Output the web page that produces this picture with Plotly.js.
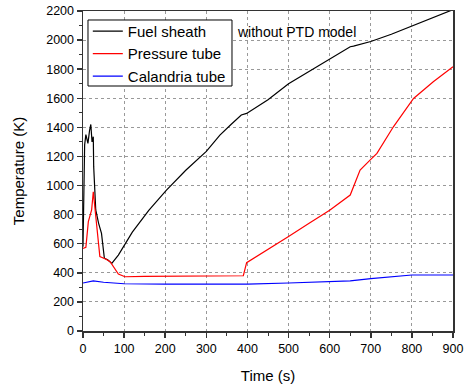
<!DOCTYPE html>
<html><head><meta charset="utf-8">
<script src="https://cdn.plot.ly/plotly-3.0.1.min.js"></script>
<style>html,body{margin:0;padding:0;background:#fff}#chart{width:465px;height:390px}</style>
</head><body><div id="chart"></div>
<script>
const sheathTime = [0, 2, 4, 7, 12, 16, 19, 22, 25, 26, 31, 38, 45, 52, 60, 70, 86, 120, 160, 203, 250, 300, 333, 360, 385, 398, 450, 500, 550, 600, 650, 658, 700, 750, 800, 850, 897];
const sheathTemp = [580, 900, 1280, 1350, 1290, 1380, 1420, 1300, 1336, 1130, 832, 740, 671, 500, 490, 465, 522, 680, 830, 969, 1105, 1235, 1347, 1420, 1485, 1496, 1590, 1700, 1785, 1870, 1954, 1959, 1990, 2040, 2096, 2150, 2206];
const tubeTime = [0, 7, 13, 21, 25, 33, 41, 55, 66, 86, 102, 150, 250, 350, 390, 398, 450, 500, 550, 600, 650, 674, 700, 715, 755, 804, 852, 900];
const tubeTemp = [568, 575, 752, 832, 957, 720, 511, 495, 476, 392, 373, 375, 375, 375, 380, 470, 560, 650, 740, 830, 935, 1107, 1180, 1221, 1404, 1599, 1713, 1816];
const calTime = [0, 25, 50, 100, 200, 300, 400, 500, 600, 650, 700, 750, 800, 900];
const calTemp = [330, 345, 335, 325, 322, 322, 322, 330, 340, 345, 360, 372, 385, 385];
const names = ['Fuel sheath', 'Pressure tube', 'Calandria tube'];
const colors = ['#000000', '#ff0000', '#0000ff'];
const xTicks = [0, 100, 200, 300, 400, 500, 600, 700, 800, 900];
const yTicks = [0, 200, 400, 600, 800, 1000, 1200, 1400, 1600, 1800, 2000, 2200];

const F = '"Liberation Sans", Arial, sans-serif';
const series = [[sheathTime, sheathTemp], [tubeTime, tubeTemp], [calTime, calTemp]];
const data = series.map((s, i) => ({
  x: s[0], y: s[1], type: 'scatter', mode: 'lines', name: names[i],
  line: {color: colors[i], width: 1.2}
}));
const axisCommon = {
  showline: true, linecolor: '#333', linewidth: 1.5, mirror: true,
  ticks: 'outside', ticklen: 5, tickwidth: 1.5, tickcolor: '#333',
  showgrid: true, gridcolor: '#999', griddash: 'dot', gridwidth: 1,
  zeroline: false, tickfont: {family: F, size: 12.5, color: '#000'}
};
const layout = {
  width: 465, height: 390,
  margin: {l: 83, r: 12, t: 11, b: 59},
  paper_bgcolor: '#fff', plot_bgcolor: '#fff',
  font: {family: F, color: '#000'},
  xaxis: Object.assign({}, axisCommon, {
    range: [0, 900], tickvals: xTicks, ticktext: xTicks.map(String),
    minor: {dtick: 50, ticklen: 3, tickwidth: 1, tickcolor: '#333', showgrid: false, ticks: 'outside'},
    title: {text: 'Time (s)', font: {family: F, size: 15}, standoff: 16}
  }),
  yaxis: Object.assign({}, axisCommon, {
    range: [0, 2200], tickvals: yTicks, ticktext: yTicks.map(String),
    minor: {dtick: 100, ticklen: 3, tickwidth: 1, tickcolor: '#333', showgrid: false, ticks: 'outside'},
    title: {text: 'Temperature (K)', font: {family: F, size: 15}, standoff: 18}
  }),
  legend: {
    x: 0.013, y: 0.988, xanchor: 'left', yanchor: 'top',
    bgcolor: 'rgba(0,0,0,0)', borderwidth: 0,
    font: {family: F, size: 15}, tracegroupgap: 0, itemwidth: 30
  },
  shapes: [{
    type: 'rect', xref: 'paper', yref: 'paper', layer: 'above',
    x0: 0.0135, x1: 0.4027, y0: 0.7656, y1: 0.9719,
    fillcolor: '#fff', line: {color: '#000', width: 1}
  }],
  showlegend: true,
  annotations: [{
    xref: 'paper', yref: 'paper', x: 0.41, y: 0.935, xanchor: 'left', yanchor: 'middle',
    text: 'without PTD model', showarrow: false, font: {family: F, size: 14, color: '#000'}
  }]
};
Plotly.newPlot('chart', data, layout, {displayModeBar: false, staticPlot: true});
</script></body></html>
